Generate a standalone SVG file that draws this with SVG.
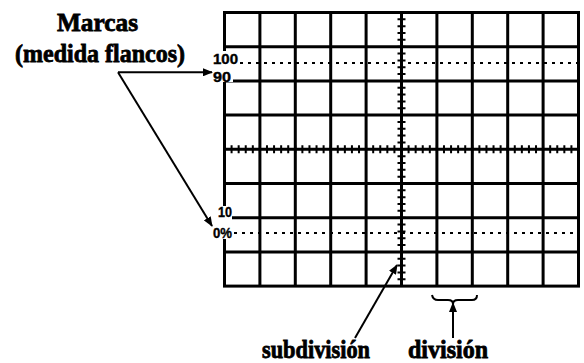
<svg xmlns="http://www.w3.org/2000/svg" width="584" height="363" viewBox="0 0 584 363">
<style>
.g{stroke:#000;stroke-width:3;fill:none}
.dot{stroke:#000;stroke-width:2;stroke-dasharray:3 5;fill:none}
.c{stroke:#000;stroke-width:2;fill:none}
.lbl{font-family:"Liberation Sans","DejaVu Sans",Arial,sans-serif;font-weight:bold;font-size:15px;fill:#000;stroke:#000;stroke-width:0.4}
.big{font-family:"Liberation Serif","DejaVu Serif","Times New Roman",serif;font-weight:bold;fill:#000;stroke:#000;stroke-width:0.8}
</style>
<defs>
<marker id="ah" markerUnits="userSpaceOnUse" markerWidth="10" markerHeight="8" refX="9" refY="4" orient="auto">
<path d="M0,0 L10,4 L0,8 z" fill="#000"/>
</marker>
</defs>
<rect width="584" height="363" fill="#fff"/>
<g id="grid">
<rect class="g" x="224.5" y="12.5" width="354" height="273.6"/>
<path class="g" d="M259.9,12.5V286.1M295.3,12.5V286.1M330.7,12.5V286.1M366.1,12.5V286.1M401.5,12.5V286.1M436.9,12.5V286.1M472.3,12.5V286.1M507.7,12.5V286.1M543.1,12.5V286.1"/>
<path class="g" d="M224.5,46.7H578.5M224.5,80.9H578.5M224.5,115.1H578.5M224.5,149.3H578.5M224.5,183.5H578.5M224.5,217.7H578.5M224.5,251.9H578.5"/>
<path d="M401.5,12.5V286.1" stroke="#000" stroke-width="8" stroke-dasharray="2 4.84" stroke-dashoffset="1" fill="none"/>
<path d="M224.5,149.3H578.5" stroke="#000" stroke-width="8" stroke-dasharray="2 5.08" stroke-dashoffset="1" fill="none"/>
<path class="dot" d="M240,63H578"/>
<path class="dot" d="M234,233H578"/>
</g>
<g id="levels">
<rect x="211" y="51" width="22" height="31" fill="#fff"/>
<rect x="211" y="206" width="21" height="33" fill="#fff"/>
<text class="lbl" x="213" y="64" textLength="25" lengthAdjust="spacingAndGlyphs">100</text>
<text class="lbl" x="213" y="81.5" textLength="18" lengthAdjust="spacingAndGlyphs">90</text>
<text class="lbl" x="218" y="217" textLength="14" lengthAdjust="spacingAndGlyphs">10</text>
<text class="lbl" x="213" y="237.5" textLength="19" lengthAdjust="spacingAndGlyphs">0%</text>
</g>
<g id="marcas">
<text class="big" x="57" y="31" font-size="26" textLength="81" lengthAdjust="spacingAndGlyphs">Marcas</text>
<text class="big" x="15" y="62" font-size="26" textLength="170" lengthAdjust="spacingAndGlyphs">(medida flancos)</text>
</g>
<g id="subdivision">
<text class="big" x="262" y="358" font-size="25" textLength="108" lengthAdjust="spacingAndGlyphs">subdivisión</text>
</g>
<g id="division">
<text class="big" x="408" y="358" font-size="25" textLength="80" lengthAdjust="spacingAndGlyphs">división</text>
<path class="c" d="M432,295 Q433,300 438,300 L448,300 Q453,300 453,304 Q453,300 458,300 L472,300 Q477,300 477,295"/>
</g>
<g id="connectors">
<path class="c" d="M118,72.3H212" marker-end="url(#ah)"/>
<path class="c" d="M118,72.3L212,226" marker-end="url(#ah)"/>
<path class="c" d="M355,338L397,265" marker-end="url(#ah)"/>
<path class="c" d="M453,338V303" marker-end="url(#ah)"/>
</g>
</svg>
